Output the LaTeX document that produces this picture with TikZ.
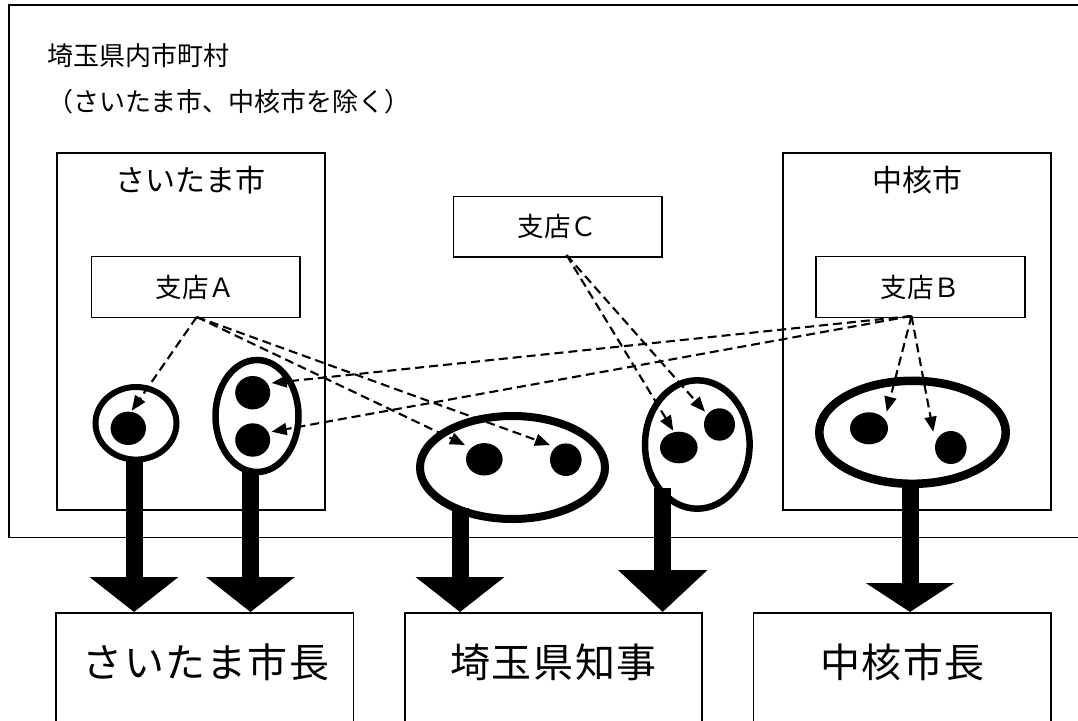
\documentclass[tikz,border=0pt]{standalone}
\usepackage{fontspec}
\setmainfont{Noto Sans CJK JP}
\newfontfamily\jpbig[LetterSpace=4]{Noto Sans CJK JP}
\usetikzlibrary{arrows.meta,shapes.geometric}
\begin{document}
\begin{tikzpicture}[x=1pt,y=-1pt,
  box/.style={draw, line width=1.6pt, inner sep=0pt, anchor=north west},
  oval/.style={draw, ellipse, inner sep=0pt},
  blob/.style={fill, ellipse, inner sep=0pt},
  link/.style={line width=2.1pt, dash pattern=on 9pt off 5pt, -{Triangle[length=15pt 0 0,width=12pt 0 0]}},
  big/.style={line width=17pt, -{Triangle[length=#1 0 0,width=87pt 0 0]}},
  ttl/.style={font=\fontsize{26pt}{30pt}\selectfont, inner sep=0pt, anchor=west},
  area/.style={font=\fontsize{30pt}{34pt}\selectfont, inner sep=0pt},
  branch/.style={font=\fontsize{26.5pt}{30pt}\selectfont},
  head/.style={font=\jpbig\fontsize{40pt}{44pt}\selectfont, inner sep=0pt}
]
\useasboundingbox (0,0) rectangle (1078,720);
\clip (0,0) rectangle (1078,720);
\fill[white] (0,0) rectangle (1078,720);

% regions
\node[box, minimum width=1092pt, minimum height=532.7pt] (pref) at (8,4) {};
\node[ttl] (t1) at (47,56) {埼玉県内市町村};
\node[ttl] (t2) at (47,102) {（さいたま市、中核市を除く）};

\node[box, minimum width=268pt, minimum height=357pt] (sai) at (56,152) {};
\node[area] (saiT) at (190.5,180) {さいたま市};
\node[box, minimum width=268pt, minimum height=357pt] (chu) at (782,152) {};
\node[area] (chuT) at (917,180) {中核市};

% branches
\node[box, minimum width=208.3pt, minimum height=61pt, branch] (bA) at (90.7,255.7) {支店Ａ};
\node[box, minimum width=209pt, minimum height=61pt, branch] (bB) at (815,255.7) {支店Ｂ};
\node[box, minimum width=208.3pt, minimum height=60.3pt, branch] (bC) at (452.7,195.7) {支店Ｃ};

% ovals
\node[oval, line width=6pt, minimum width=81pt, minimum height=72.6pt] (e1) at (136,423.3) {};
\node[oval, line width=6.5pt, minimum width=83pt, minimum height=112pt] (e2) at (257,416) {};
\node[oval, line width=8pt, minimum width=185pt, minimum height=103pt] (e3) at (512.5,467.5) {};
\node[oval, line width=6.5pt, minimum width=104.6pt, minimum height=128.4pt] (e4) at (697.3,444.5) {};
\node[oval, line width=8.5pt, minimum width=186.5pt, minimum height=103pt] (e5) at (912.5,432.3) {};

% dots
\node[blob, minimum width=35.4pt, minimum height=33.4pt] (d1) at (128.3,428.3) {};
\node[blob, minimum width=35pt, minimum height=33.4pt] (d2a) at (252.7,392.7) {};
\node[blob, minimum width=35pt, minimum height=33.4pt] (d2b) at (252.7,440) {};
\node[blob, minimum width=36.6pt, minimum height=32.4pt] (d3a) at (484.3,459.3) {};
\node[blob, minimum width=31.6pt, minimum height=32.6pt] (d3b) at (565.8,459.7) {};
\node[blob, minimum width=37.6pt, minimum height=31.6pt] (d4a) at (678.8,447.5) {};
\node[blob, minimum width=31pt, minimum height=32.4pt] (d4b) at (719.5,424.5) {};
\node[blob, minimum width=38pt, minimum height=32pt] (d5a) at (869,428.3) {};
\node[blob, minimum width=31.6pt, minimum height=33pt] (d5b) at (950.8,447.5) {};

% bottom boxes
\node[box, minimum width=297.6pt, minimum height=130pt] (m1) at (55,612) {};
\node[box, minimum width=297pt, minimum height=130pt] (m2) at (404,612) {};
\node[box, minimum width=297.4pt, minimum height=130pt] (m3) at (752.6,612) {};
\node[head] (m1T) at (206,662) {さいたま市長};
\node[head] (m2T) at (553.5,662) {埼玉県知事};
\node[head] (m3T) at (902.5,662) {中核市長};

% dashed connectors
\coordinate (pA) at (196.7,317);
\coordinate (pB) at (911.5,316);
\coordinate (pC) at (566.5,255);
\coordinate (tA1) at (131.7,410.7);
\coordinate (tA2) at (465,445);
\coordinate (tA3) at (550,445);
\coordinate (tB1) at (271.7,383);
\coordinate (tB2) at (271.7,431.7);
\coordinate (tB3) at (886.7,411.7);
\coordinate (tB4) at (933.3,431.7);
\coordinate (tC1) at (673.3,430.7);
\coordinate (tC2) at (705,411.7);
\draw[link] (pA) -- (tA1);
\draw[link] (pA) -- (tA2);
\draw[link] (pA) -- (tA3);
\draw[link] (pB) -- (tB1);
\draw[link] (pB) -- (tB2);
\draw[link] (pB) -- (tB3);
\draw[link] (pB) -- (tB4);
\draw[link] (pC) -- (tC1);
\draw[link] (pC) -- (tC2);

% thick arrows
\coordinate (s1) at (134,458);
\coordinate (s2) at (250.5,470);
\coordinate (s3) at (460,508);
\coordinate (s4) at (662.7,488);
\coordinate (s5) at (910,485);
\draw[big=35pt] (s1) -- (s1 |- m1.north);
\draw[big=35pt] (s2) -- (s2 |- m1.north);
\draw[big=35pt] (s3) -- (s3 |- m2.north);
\draw[big=42pt] (s4) -- (s4 |- m2.north);
\draw[big=29pt] (s5) -- (s5 |- m3.north);
\end{tikzpicture}
\end{document}
